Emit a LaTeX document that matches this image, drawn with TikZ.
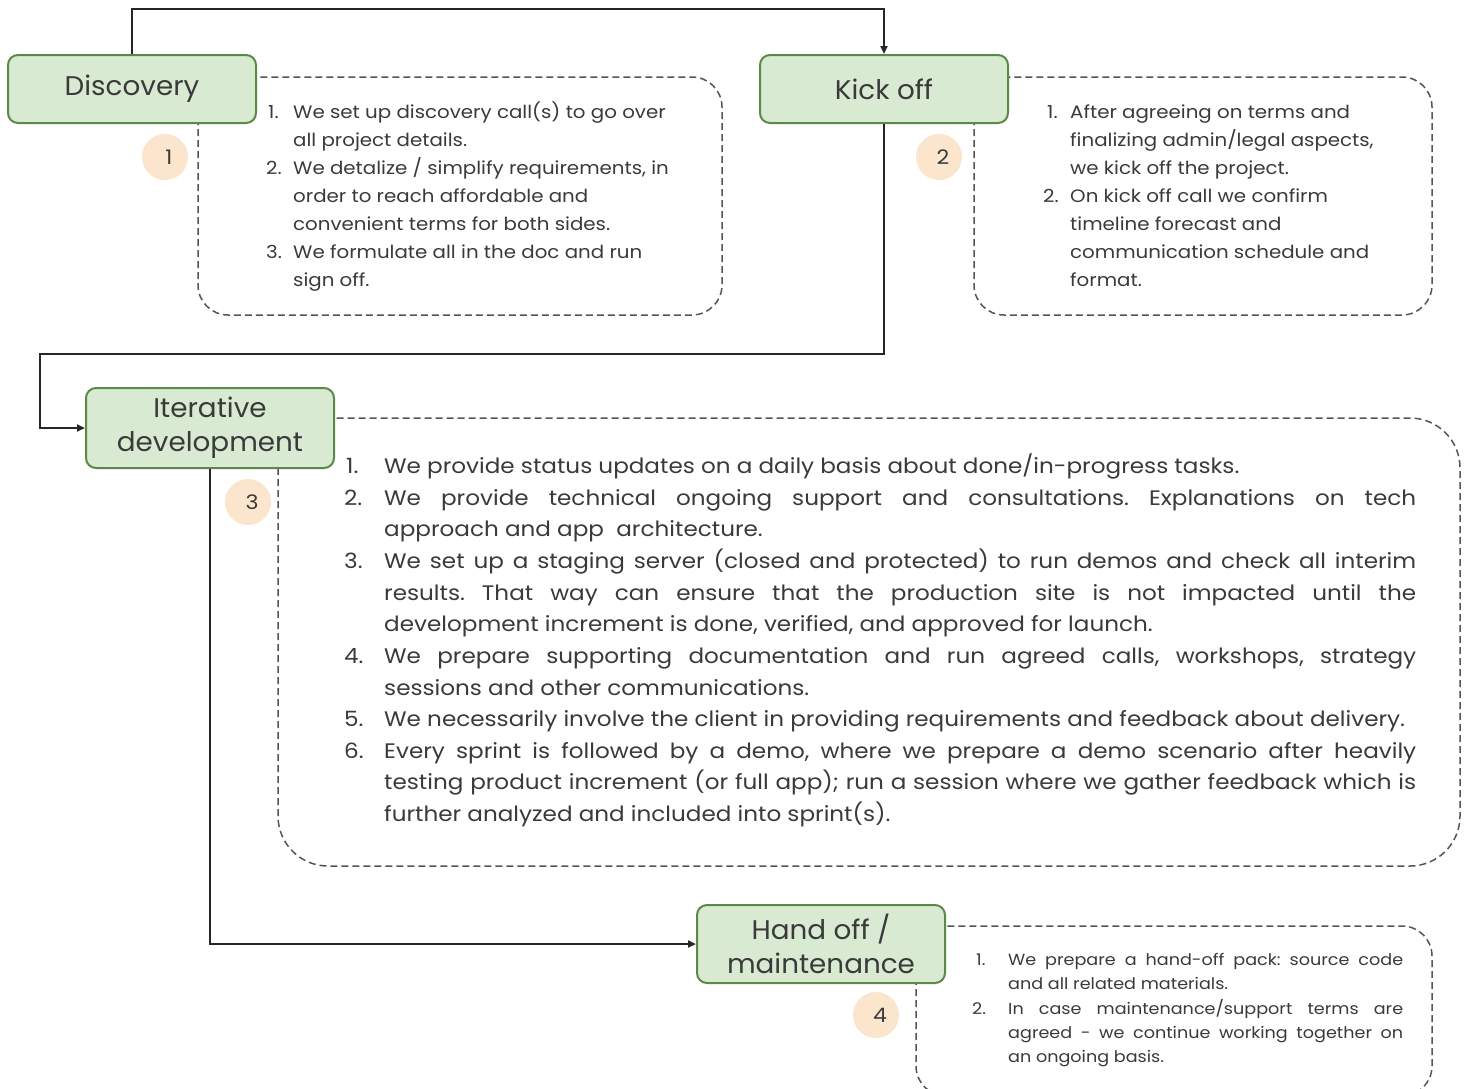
\documentclass[tikz,border=0pt]{standalone}
\usepackage{fontspec}
\setmainfont{Poppins}[FakeStretch=1.1]
\newfontfamily\labelfont{Poppins}[FakeStretch=1.03]
\usetikzlibrary{arrows.meta}
\definecolor{stagefill}{HTML}{D9EAD3}
\definecolor{stagedraw}{HTML}{5B8A47}
\definecolor{badgefill}{HTML}{FCE5CD}
\definecolor{txtc}{HTML}{3A3A3A}
\definecolor{dashc}{HTML}{555555}
\newcommand{\jl}[2]{\makebox[#1][s]{#2}}
\frenchspacing
\begin{document}
\frenchspacing
\begin{tikzpicture}[x=1pt,y=-1pt,
  stage/.style={draw=stagedraw, fill=stagefill, line width=2pt, rounded corners=10pt,
    minimum width=248pt, minimum height=68pt, align=center,
    font=\labelfont\fontsize{27}{34}\selectfont, text=txtc, inner sep=0pt},
  badge/.style={circle, fill=badgefill, minimum size=46pt, inner sep=0pt,
    font=\fontsize{20}{24}\selectfont, text=txtc},
  note/.style={draw=dashc, dash pattern=on 7pt off 4pt, line width=1.5pt},
  conn/.style={draw=black!85, line width=2pt, -{Triangle[length=8pt,width=7pt]}},
  tl/.style={anchor=base west, inner sep=0pt, text=txtc},
  fa/.style={tl, font=\frenchspacing\fontsize{18}{22}\selectfont},
  fb/.style={tl, font=\frenchspacing\fontsize{21}{25}\selectfont},
  fc/.style={tl, font=\frenchspacing\fontsize{16}{18}\selectfont},
]
\useasboundingbox[fill=white] (0,0) rectangle (1468,1088);

% dashed note frames
\draw[note, rounded corners=30pt] (198,77) rectangle (722,315);
\draw[note, rounded corners=30pt] (974,77) rectangle (1432,315);
\draw[note, rounded corners=50pt] (278,418) rectangle (1460,866);
\draw[note, rounded corners=30pt] (916,926) rectangle (1432,1096);

% stages
\node[stage] (disc) at (132,89) {Discovery};
\node[stage] (kick) at (884,89) {Kick off};
\node[stage, minimum height=80pt] (iter) at (210,428) {Iterative\\development};
\node[stage, minimum height=78pt] (hand) at (821,944) {Hand off /\\maintenance};

% badges
\node[badge] (b1) at (165,157) {\hspace{8pt}1};
\node[badge] (b2) at (939,157) {\hspace{8pt}2};
\node[badge] (b3) at (248,502) {\hspace{8pt}3};
\node[badge] (b4) at (876,1015) {\hspace{8pt}4};

% connectors
\coordinate (c1) at (132,9);
\coordinate (c2) at (40,354);
\draw[conn] (disc.north) -- (c1) -| (kick.north);
\draw[conn] (kick.south) |- (c2) |- (iter.west);
\draw[conn] (iter.south) |- (hand.west);

% note 1
\node[fa] (n1a) at (268,118) {1.};
\node[fa] (t1a) at (293,118) {We set up discovery call(s) to go over};
\node[fa] (t1b) at (293,146) {all project details.};
\node[fa] (n1b) at (266,174) {2.};
\node[fa] (t1c) at (293,174) {We detalize / simplify requirements, in};
\node[fa] (t1d) at (293,202) {order to reach affordable and};
\node[fa] (t1e) at (293,230) {convenient terms for both sides.};
\node[fa] (n1c) at (266,258) {3.};
\node[fa] (t1f) at (293,258) {We formulate all in the doc and run};
\node[fa] (t1g) at (293,286) {sign off.};

% note 2
\node[fa] (n2a) at (1047,118) {1.};
\node[fa] (t2a) at (1070,118) {After agreeing on terms and};
\node[fa] (t2b) at (1070,146) {finalizing admin/legal aspects,};
\node[fa] (t2c) at (1070,174) {we kick off the project.};
\node[fa] (n2b) at (1043,202) {2.};
\node[fa] (t2d) at (1070,202) {On kick off call we confirm};
\node[fa] (t2e) at (1070,230) {timeline forecast and};
\node[fa] (t2f) at (1070,258) {communication schedule and};
\node[fa] (t2g) at (1070,286) {format.};

% note 3
\node[fb] (n3a) at (346,473) {1.};
\node[fb] (t3a) at (384,473) {We provide status updates on a daily basis about done/in-progress tasks.};
\node[fb] (n3b) at (344,505) {2.};
\node[fb] (t3b) at (384,505) {\jl{1032pt}{We provide technical ongoing support and consultations. Explanations on tech}};
\node[fb] (t3c) at (384,536) {approach and app\ \ architecture.};
\node[fb] (n3c) at (344,568) {3.};
\node[fb] (t3d) at (384,568) {\jl{1032pt}{We set up a staging server (closed and protected) to run demos and check all interim}};
\node[fb] (t3e) at (384,600) {\jl{1032pt}{results. That way can ensure that the production site is not impacted until the}};
\node[fb] (t3f) at (384,631) {development increment is done, verified, and approved for launch.};
\node[fb] (n3d) at (344,663) {4.};
\node[fb] (t3g) at (384,663) {\jl{1032pt}{We prepare supporting documentation and run agreed calls, workshops, strategy}};
\node[fb] (t3h) at (384,695) {sessions and other communications.};
\node[fb] (n3e) at (344,726) {5.};
\node[fb] (t3i) at (384,726) {We necessarily involve the client in providing requirements and feedback about delivery.};
\node[fb] (n3f) at (344,758) {6.};
\node[fb] (t3j) at (384,758) {\jl{1032pt}{Every sprint is followed by a demo, where we prepare a demo scenario after heavily}};
\node[fb] (t3k) at (384,789) {\jl{1032pt}{testing product increment (or full app); run a session where we gather feedback which is}};
\node[fb] (t3l) at (384,821) {further analyzed and included into sprint(s).};

% note 4
\node[fc] (n4a) at (976,965) {1.};
\node[fc] (t4a) at (1008,965) {\jl{395pt}{We prepare a hand-off pack: source code}};
\node[fc] (t4b) at (1008,989) {and all related materials.};
\node[fc] (n4b) at (972,1014) {2.};
\node[fc] (t4c) at (1008,1014) {\jl{395pt}{In case maintenance/support terms are}};
\node[fc] (t4d) at (1008,1038) {\jl{395pt}{agreed - we continue working together on}};
\node[fc] (t4e) at (1008,1062) {an ongoing basis.};
\end{tikzpicture}
\end{document}
